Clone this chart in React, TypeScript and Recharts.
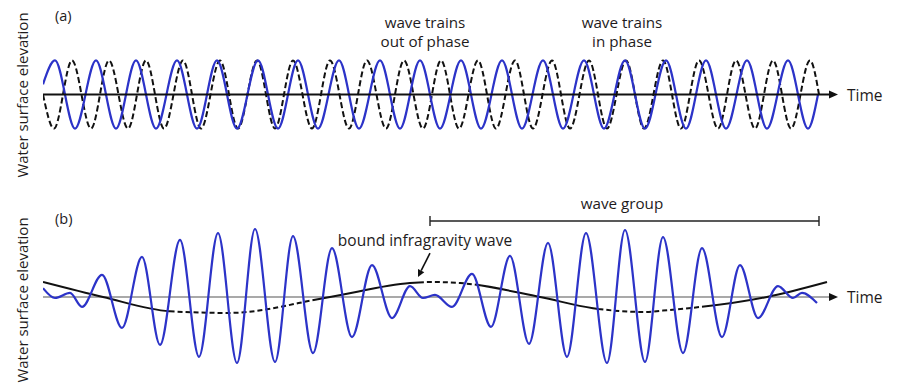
import React from "react";
import { LineChart, Line, XAxis, YAxis, ReferenceLine } from "recharts";

// time axis: arbitrary units from the origin, elevation: arbitrary units
// (a) two regular wave trains, crest and trough times
const trainCrests = [1.2, 5.3, 9.3, 13.4, 17.4, 21.5, 25.5, 29.6, 33.7, 37.7, 41.8, 45.9, 50.0, 54.1, 58.2, 62.3, 66.3, 70.4, 74.5];
const trainTroughs = [3.2, 7.3, 11.3, 15.4, 19.4, 23.5, 27.5, 31.6, 35.7, 39.7, 43.8, 47.9, 52.0, 56.1, 60.2, 64.3, 68.3, 72.4, 76.5];
const trainStart = { t: 0, v: 3 };
const trainEnd = { t: 77.5, v: 0 };

const dashedCrests = [2.9, 6.6, 10.3, 14.0, 17.7, 21.4, 25.0, 28.7, 32.4, 36.1, 39.8, 43.5, 47.2, 50.9, 54.6, 58.3, 62.0, 65.6, 69.3, 73.0, 76.7];
const dashedTroughs = [1.1, 4.8, 8.5, 12.1, 15.8, 19.5, 23.2, 26.9, 30.6, 34.3, 38.0, 41.6, 45.3, 49.0, 52.7, 56.4, 60.1, 63.8, 67.5, 71.2, 74.8];
const dashedStart = { t: 0, v: 0 };
const dashedEnd = { t: 77.6, v: 0 };
const trainHeight = 10;

// (b) wave group: turning points
const groupTimes = [0, 1.2, 2.7, 3.9, 5.9, 7.9, 9.9, 11.7, 13.7, 15.6, 17.5, 19.4, 21.2, 23.2, 25.0, 27.0, 28.9, 30.9, 32.9, 34.9, 36.7, 38.0, 39.2, 40.9, 42.9, 44.8, 46.7, 48.6, 50.5, 52.4, 54.3, 56.4, 58.2, 60.2, 62.0, 64.0, 65.9, 67.9, 69.7, 71.5, 73.5, 75.0, 75.9, 77.4];
const groupLevels = [2.6, -0.3, 1.2, -2.9, 6.5, -9.1, 11.8, -14.1, 16.8, -17.6, 18.8, -19.4, 20.0, -19.1, 17.9, -16.5, 14.4, -11.8, 9.4, -6.2, 3.2, -0.3, 0.6, -2.9, 6.8, -8.8, 12.1, -13.8, 15.9, -17.6, 18.8, -19.4, 19.7, -19.1, 17.6, -16.5, 14.4, -11.8, 9.4, -6.2, 3.2, -0.3, 1.2, -1.8];

// bound infragravity wave
const igTimes = [0, 6.0, 12.7, 18.5, 28.7, 36.7, 39.0, 41.7, 49.7, 55.0, 60.0, 62.7, 72.4, 78.4];
const igLevels = [4.4, 0, -4.2, -4.7, 0, 4.1, 4.4, 4.1, 0, -3.3, -4.4, -3.8, 0, 4.4];

const BLUE = "#2c33c8";
const FONT = "'Open Sans', sans-serif";
const TEXT = "#1e1b1c";

const trainA = [trainStart, ...trainCrests.map((t) => ({ t, v: trainHeight })), ...trainTroughs.map((t) => ({ t, v: -trainHeight })), trainEnd].sort((a, b) => a.t - b.t);
const trainB = [dashedStart, ...dashedCrests.map((t) => ({ t, v: trainHeight })), ...dashedTroughs.map((t) => ({ t, v: -trainHeight })), dashedEnd].sort((a, b) => a.t - b.t);
const groupData = groupTimes.map((t, i) => ({ t, v: groupLevels[i] }));
const igData = igTimes.map((t, i) => ({ t, v: igLevels[i] }));

// solid / dashed stretches of the infragravity line (path length, px)
const igStyle: [string, number][] = [
  ["solid", 130], ["dashed", 144], ["solid", 108], ["dashed", 60], ["solid", 126], ["dashed", 108], ["solid", 140],
];
const igDash = igStyle
  .flatMap(([kind, len]) => {
    if (kind === "solid") return [len, 0];
    const out: number[] = [];
    for (let d = 0; d + 8 <= len; d += 8) out.push(5, 3);
    return out;
  })
  .join(" ");

const TIME_DOMAIN: [number, number] = [0, 79.5];

const TimeAxis = (props: any) => {
  const { x1, y1, x2, y2, stroke, strokeWidth } = props;
  return (
    <g>
      <line x1={x1} y1={y1} x2={x2 - 6} y2={y2} stroke={stroke} strokeWidth={strokeWidth} />
      <polygon points={`${x2},${y2} ${x2 - 9},${y2 - 4} ${x2 - 9},${y2 + 4}`} fill="#111" />
      <text x={x2 + 9} y={y2} dominantBaseline="central" fontSize={15.5} fontFamily={FONT} fill={TEXT}>
        Time
      </text>
    </g>
  );
};

const Pointer = (props: any) => {
  const { x1, y1, x2, y2 } = props;
  const a = Math.atan2(y2 - y1, x2 - x1);
  const l = 7;
  const w = 3.5;
  const bx = x2 - l * Math.cos(a);
  const by = y2 - l * Math.sin(a);
  const px = -Math.sin(a) * w;
  const py = Math.cos(a) * w;
  return (
    <g>
      <line x1={x1} y1={y1} x2={bx} y2={by} stroke="#111" strokeWidth={1.6} />
      <polygon points={`${x2},${y2} ${bx + px},${by + py} ${bx - px},${by - py}`} fill="#111" />
    </g>
  );
};

const Bracket = (props: any) => {
  const { x1, y1, x2, y2 } = props;
  return (
    <g stroke="#222" strokeWidth={1.4}>
      <line x1={x1} y1={y1} x2={x2} y2={y2} />
      <line x1={x1} y1={y1 - 5} x2={x1} y2={y1 + 5} />
      <line x1={x2} y1={y2 - 5} x2={x2} y2={y2 + 5} />
    </g>
  );
};

const label = { fontFamily: FONT, fill: TEXT };

const PanelA = () => (
  <LineChart width={897} height={190} margin={{ top: 6, right: 59, bottom: 7, left: 43 }}>
    <XAxis type="number" dataKey="t" domain={TIME_DOMAIN} hide allowDataOverflow />
    <YAxis type="number" domain={[-26, 26]} width={0} tick={false} tickLine={false} axisLine={{ stroke: "#111", strokeWidth: 2 }} />
    <Line data={trainB} dataKey="v" type="monotone" stroke="#111" strokeWidth={2} strokeDasharray="6 3" dot={false} isAnimationActive={false} />
    <Line data={trainA} dataKey="v" type="monotone" stroke={BLUE} strokeWidth={2.2} dot={false} isAnimationActive={false} />
    <ReferenceLine y={0} stroke="#111" strokeWidth={2} shape={TimeAxis} />
    <text x={55} y={21} fontSize={14.5} {...label}>(a)</text>
    <text x={22} y={95} fontSize={15} textAnchor="middle" dominantBaseline="central" transform="rotate(-90 22 95)" {...label}>
      Water surface elevation
    </text>
    <text x={425} y={28} fontSize={15.2} textAnchor="middle" {...label}>wave trains</text>
    <text x={425} y={47} fontSize={15.2} textAnchor="middle" {...label}>out of phase</text>
    <text x={622} y={28} fontSize={15.2} textAnchor="middle" {...label}>wave trains</text>
    <text x={622} y={47} fontSize={15.2} textAnchor="middle" {...label}>in phase</text>
  </LineChart>
);

const PanelB = () => (
  <LineChart width={897} height={194} margin={{ top: 22, right: 59, bottom: 0, left: 43 }}>
    <XAxis type="number" dataKey="t" domain={TIME_DOMAIN} hide allowDataOverflow />
    <YAxis type="number" domain={[-25.6, 25]} width={0} tick={false} tickLine={false} axisLine={{ stroke: "#111", strokeWidth: 2 }} />
    <ReferenceLine y={0} stroke="#555" strokeWidth={1.2} shape={TimeAxis} />
    <Line data={igData} dataKey="v" type="monotone" stroke="#111" strokeWidth={2} strokeDasharray={igDash} dot={false} isAnimationActive={false} />
    <Line data={groupData} dataKey="v" type="monotone" stroke={BLUE} strokeWidth={2.2} dot={false} isAnimationActive={false} />
    <ReferenceLine segment={[{ x: 38.7, y: 22.35 }, { x: 77.6, y: 22.35 }]} shape={Bracket} />
    <ReferenceLine segment={[{ x: 38.7, y: 12.9 }, { x: 37.5, y: 5.9 }]} shape={Pointer} />
    <text x={55} y={34} fontSize={14.5} {...label}>(b)</text>
    <text x={22} y={110} fontSize={15} textAnchor="middle" dominantBaseline="central" transform="rotate(-90 22 110)" {...label}>
      Water surface elevation
    </text>
    <text x={622} y={19} fontSize={15.2} textAnchor="middle" {...label}>wave group</text>
    <text x={425} y={56} fontSize={15.5} textAnchor="middle" {...label}>bound infragravity wave</text>
  </LineChart>
);

export default function App() {
  return (
    <div style={{ position: "absolute", left: 0, top: 0, width: 897, height: 384, background: "#fff", overflow: "hidden" }}>
      <div style={{ position: "absolute", left: 0, top: 0 }}>
        <PanelA />
      </div>
      <div style={{ position: "absolute", left: 0, top: 190 }}>
        <PanelB />
      </div>
    </div>
  );
}
